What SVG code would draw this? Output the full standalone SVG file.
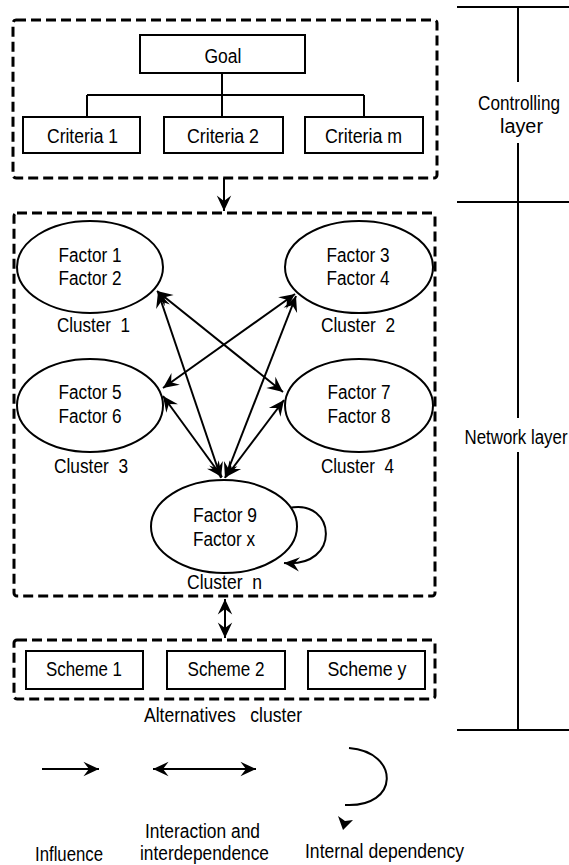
<svg xmlns="http://www.w3.org/2000/svg" width="569" height="865" viewBox="0 0 569 865">
<defs>
<style>
.t{font-family:"Liberation Sans",Arial,sans-serif;font-size:20px;fill:#000;text-anchor:middle;white-space:pre;}
.box{fill:#fff;stroke:#000;stroke-width:2;}
.dash{fill:none;stroke:#000;stroke-width:3;stroke-dasharray:10 5;}
.ell{fill:#fff;stroke:#000;stroke-width:2;}
.ln{fill:none;stroke:#000;stroke-width:2;}
.ar{fill:none;stroke:#000;stroke-width:2;marker-end:url(#ah);}
.dar{fill:none;stroke:#000;stroke-width:2;marker-end:url(#ah);marker-start:url(#ahs);}
</style>
<marker id="ah" markerUnits="userSpaceOnUse" markerWidth="20" markerHeight="20" viewBox="-16 -8 18 16" refX="0" refY="0" orient="auto">
<path d="M0,0 L-14,-6.5 L-9,0 L-14,6.5 Z" fill="#000"/>
</marker>
<marker id="ahs" markerUnits="userSpaceOnUse" markerWidth="20" markerHeight="20" viewBox="-16 -8 18 16" refX="0" refY="0" orient="auto-start-reverse">
<path d="M0,0 L-14,-6.5 L-9,0 L-14,6.5 Z" fill="#000"/>
</marker>
</defs>
<rect width="569" height="865" fill="#fff"/>

<!-- layer column -->
<g id="layers">
<path class="ln" d="M457,7 H569 M457,202 H569 M457,730 H569 M518,7 V82 M518,143 V418 M518,452 V730"/>
<text class="t" x="519" y="110" textLength="82" lengthAdjust="spacingAndGlyphs">Controlling</text>
<text class="t" x="521.5" y="133" textLength="43" lengthAdjust="spacingAndGlyphs">layer</text>
<text class="t" x="516" y="444" textLength="103" lengthAdjust="spacingAndGlyphs">Network layer</text>
</g>

<!-- clusters (dashed) -->
<g id="controlling-cluster"><rect class="dash" x="13" y="20" width="424" height="158" rx="3"/></g>
<g id="network-cluster"><rect class="dash" x="14" y="213" width="421" height="383" rx="3"/></g>
<g id="alternatives-cluster">
<rect class="dash" x="14" y="640" width="421" height="59" rx="3"/>
<text class="t" x="223" y="722" textLength="158" lengthAdjust="spacingAndGlyphs">Alternatives   cluster</text>
</g>

<!-- connectors -->
<g id="connectors">
<path class="ln" d="M222,73 V117 M87,95 H364 M87,95 V117 M364,95 V117"/>
<path class="ar" d="M224,178 V211"/>
<path class="dar" d="M225,599 V638"/>
<path class="dar" d="M157,291 L283,392"/>
<path class="dar" d="M158,292 L221,478"/>
<path class="dar" d="M295,294 L163,388"/>
<path class="dar" d="M296,296 L225,478"/>
<path class="dar" d="M163,396 L222,477"/>
<path class="dar" d="M284,400 L226,477"/>
<path class="ar" d="M289,508 C336,498 342,568 284,563"/>
</g>

<!-- nodes -->
<g id="goal"><rect class="box" x="140" y="35" width="165" height="38"/><text class="t" x="223" y="63" textLength="37" lengthAdjust="spacingAndGlyphs">Goal</text></g>
<g id="criteria1"><rect class="box" x="23" y="117" width="117" height="36"/><text class="t" x="82.5" y="143" textLength="71" lengthAdjust="spacingAndGlyphs">Criteria 1</text></g>
<g id="criteria2"><rect class="box" x="164" y="117" width="119" height="36"/><text class="t" x="223" y="143" textLength="72" lengthAdjust="spacingAndGlyphs">Criteria 2</text></g>
<g id="criteriam"><rect class="box" x="305" y="117" width="118" height="36"/><text class="t" x="363.5" y="143" textLength="77" lengthAdjust="spacingAndGlyphs">Criteria m</text></g>

<g id="cluster1">
<ellipse class="ell" cx="90" cy="267" rx="73" ry="46"/>
<text class="t" x="90" y="262" textLength="63" lengthAdjust="spacingAndGlyphs">Factor 1</text>
<text class="t" x="90" y="285" textLength="63" lengthAdjust="spacingAndGlyphs">Factor 2</text>
<text class="t" x="93.5" y="332" textLength="73" lengthAdjust="spacingAndGlyphs">Cluster  1</text>
</g>
<g id="cluster2">
<ellipse class="ell" cx="359" cy="267" rx="74" ry="46"/>
<text class="t" x="358" y="262" textLength="63" lengthAdjust="spacingAndGlyphs">Factor 3</text>
<text class="t" x="358" y="285" textLength="63" lengthAdjust="spacingAndGlyphs">Factor 4</text>
<text class="t" x="358" y="332" textLength="74" lengthAdjust="spacingAndGlyphs">Cluster  2</text>
</g>
<g id="cluster3">
<ellipse class="ell" cx="90" cy="405.5" rx="73" ry="46.5"/>
<text class="t" x="90" y="399" textLength="63" lengthAdjust="spacingAndGlyphs">Factor 5</text>
<text class="t" x="90" y="423" textLength="63" lengthAdjust="spacingAndGlyphs">Factor 6</text>
<text class="t" x="91" y="473" textLength="74" lengthAdjust="spacingAndGlyphs">Cluster  3</text>
</g>
<g id="cluster4">
<ellipse class="ell" cx="359" cy="405.5" rx="74" ry="46.5"/>
<text class="t" x="359" y="399" textLength="63" lengthAdjust="spacingAndGlyphs">Factor 7</text>
<text class="t" x="359" y="423" textLength="63" lengthAdjust="spacingAndGlyphs">Factor 8</text>
<text class="t" x="357.5" y="473" textLength="73" lengthAdjust="spacingAndGlyphs">Cluster  4</text>
</g>
<g id="clustern">
<ellipse class="ell" cx="224" cy="526.5" rx="73" ry="46.5"/>
<text class="t" x="225" y="522" textLength="64" lengthAdjust="spacingAndGlyphs">Factor 9</text>
<text class="t" x="224" y="546" textLength="62" lengthAdjust="spacingAndGlyphs">Factor x</text>
<text class="t" x="224.5" y="589" textLength="75" lengthAdjust="spacingAndGlyphs">Cluster  n</text>
</g>

<g id="scheme1"><rect class="box" x="26" y="651" width="117" height="38"/><text class="t" x="84" y="676" textLength="76" lengthAdjust="spacingAndGlyphs">Scheme 1</text></g>
<g id="scheme2"><rect class="box" x="167" y="651" width="118" height="38"/><text class="t" x="226" y="676" textLength="77" lengthAdjust="spacingAndGlyphs">Scheme 2</text></g>
<g id="schemey"><rect class="box" x="308" y="651" width="117" height="38"/><text class="t" x="367" y="676" textLength="79" lengthAdjust="spacingAndGlyphs">Scheme y</text></g>

<!-- legend -->
<g id="legend">
<path class="ar" d="M42,769 H99"/>
<path class="dar" d="M153,769 H256"/>
<path class="ln" d="M349,748 C400,752 400,808 345,805"/>
<path d="M343,830 L338,816 L345,821 L353,820 Z" fill="#000"/>
<text class="t" x="69" y="861" textLength="68" lengthAdjust="spacingAndGlyphs">Influence</text>
<text class="t" x="202.5" y="838" textLength="115" lengthAdjust="spacingAndGlyphs">Interaction and</text>
<text class="t" x="204.5" y="860" textLength="129" lengthAdjust="spacingAndGlyphs">interdependence</text>
<text class="t" x="384.5" y="858" textLength="159" lengthAdjust="spacingAndGlyphs">Internal dependency</text>
</g>
</svg>
